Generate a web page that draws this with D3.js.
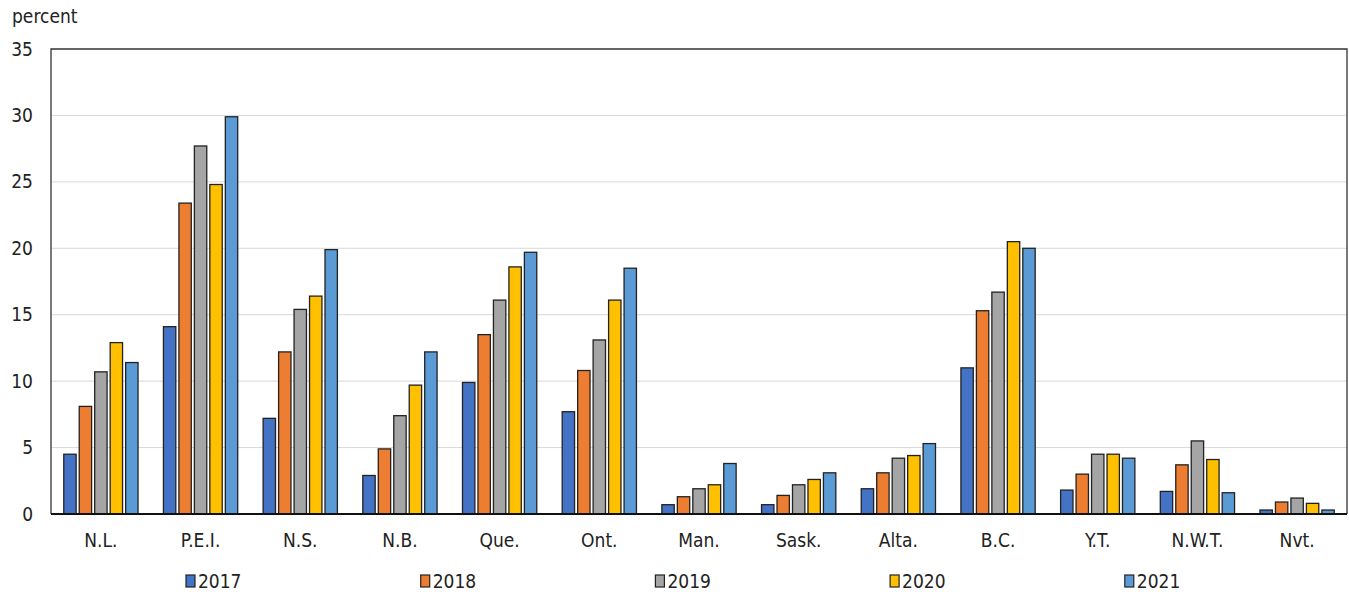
<!DOCTYPE html>
<html>
<head>
<meta charset="utf-8">
<script src="https://cdn.jsdelivr.net/npm/d3@7"></script>
<style>
  html, body { margin: 0; padding: 0; background: #fff; }
  svg text { font-family: "Liberation Sans Narrow", "DejaVu Sans Condensed", "Roboto", sans-serif; fill: #222; }
</style>
</head>
<body>
<svg id="chart" width="1349" height="592"></svg>
<script>
// Provinces and territories
const categories = ["N.L.", "P.E.I.", "N.S.", "N.B.", "Que.", "Ont.", "Man.", "Sask.", "Alta.", "B.C.", "Y.T.", "N.W.T.", "Nvt."];
const years = ["2017", "2018", "2019", "2020", "2021"];

// Percent values by year, one entry per category
const v2017 = [4.5, 14.1, 7.2, 2.9, 9.9, 7.7, 0.7, 0.7, 1.9, 11.0, 1.8, 1.7, 0.3];
const v2018 = [8.1, 23.4, 12.2, 4.9, 13.5, 10.8, 1.3, 1.4, 3.1, 15.3, 3.0, 3.7, 0.9];
const v2019 = [10.7, 27.7, 15.4, 7.4, 16.1, 13.1, 1.9, 2.2, 4.2, 16.7, 4.5, 5.5, 1.2];
const v2020 = [12.9, 24.8, 16.4, 9.7, 18.6, 16.1, 2.2, 2.6, 4.4, 20.5, 4.5, 4.1, 0.8];
const v2021 = [11.4, 29.9, 19.9, 12.2, 19.7, 18.5, 3.8, 3.1, 5.3, 20.0, 4.2, 1.6, 0.3];

const yTicks = [0, 5, 10, 15, 20, 25, 30, 35];
const colors = ["#4472C4", "#ED7D31", "#A5A5A5", "#FFC000", "#5B9BD5"];

const seriesValues = [v2017, v2018, v2019, v2020, v2021];
const rows = categories.map((c, i) => ({ cat: c, vals: seriesValues.map(s => s[i]) }));

const svg = d3.select("#chart");
const plotL = 51, plotR = 1347, plotT = 49, plotB = 514;

const x = d3.scaleBand().domain(categories).range([plotL, plotR]).paddingInner(0.255).paddingOuter(0.128);
const xs = d3.scaleBand().domain(years).range([0, x.bandwidth()]).paddingInner(0.2);
const y = d3.scaleLinear().domain([0, 35]).range([plotB, plotT]);

// Horizontal gridlines
svg.append("g").selectAll("line").data(yTicks.filter(t => t > 0 && t < 35)).join("line")
  .attr("x1", plotL).attr("x2", plotR)
  .attr("y1", d => y(d)).attr("y2", d => y(d))
  .attr("stroke", "#d9d9d9").attr("stroke-width", 1);

// Plot frame
svg.append("path")
  .attr("d", `M${plotL},${plotB} V${plotT} H${plotR} V${plotB}`)
  .attr("fill", "none").attr("stroke", "#333").attr("stroke-width", 1.3);

// Bars
const groups = svg.append("g").selectAll("g").data(rows).join("g")
  .attr("transform", d => `translate(${x(d.cat)},0)`);
groups.selectAll("rect").data(d => d.vals.map((v, i) => ({ year: years[i], v, i }))).join("rect")
  .attr("x", d => xs(d.year))
  .attr("width", xs.bandwidth())
  .attr("y", d => y(d.v))
  .attr("height", d => y(0) - y(d.v))
  .attr("fill", d => colors[d.i])
  .attr("stroke", "#222").attr("stroke-width", 1.3);

// Baseline
svg.append("line").attr("x1", plotL).attr("x2", plotR).attr("y1", plotB).attr("y2", plotB)
  .attr("stroke", "#111").attr("stroke-width", 2);

// Y axis labels
const yAxis = d3.axisLeft(y).tickValues(yTicks).tickSize(0).tickPadding(18);
const ya = svg.append("g").attr("transform", `translate(${plotL},0)`).call(yAxis);
ya.select(".domain").remove();
ya.attr("font-family", null).attr("font-size", null);
ya.selectAll("text").attr("font-size", 19);

// X axis labels
const xAxis = d3.axisBottom(x).tickSize(0).tickPadding(20);
const xa = svg.append("g").attr("transform", `translate(0,${plotB})`).call(xAxis);
xa.select(".domain").remove();
xa.attr("font-family", null).attr("font-size", null);
xa.selectAll("text").attr("font-size", 19);

// Unit label
svg.append("text").attr("x", 12).attr("y", 23).attr("font-size", 19).text("percent");

// Legend
const lx = d3.scaleBand().domain(years).range([186, 186 + 234.7 * 5]);
const leg = svg.append("g").selectAll("g").data(years).join("g")
  .attr("transform", d => `translate(${lx(d)},581)`);
leg.append("rect").attr("x", 0).attr("y", -6).attr("width", 9).attr("height", 12)
  .attr("fill", (d, i) => colors[i]).attr("stroke", "#222").attr("stroke-width", 1.2);
leg.append("text").attr("x", 12).attr("y", 7).attr("font-size", 19).text(d => d);
</script>
</body>
</html>
